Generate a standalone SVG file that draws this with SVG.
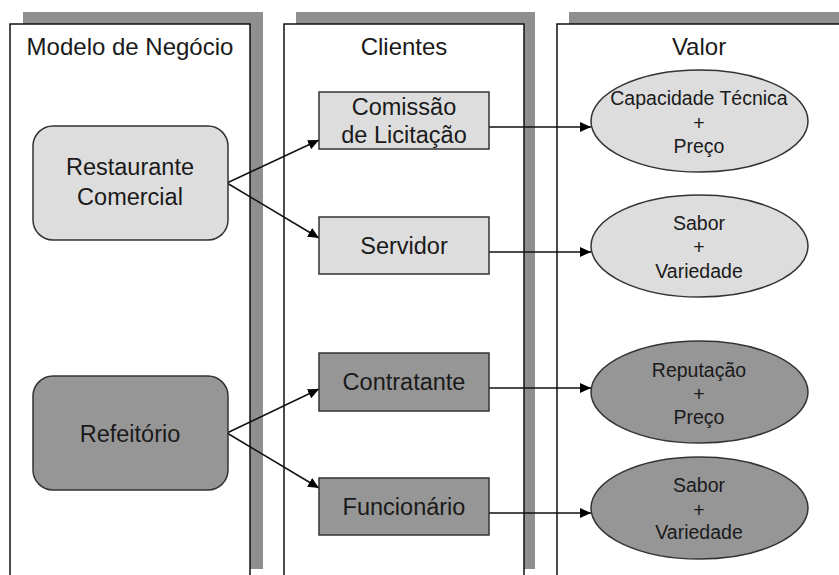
<svg xmlns="http://www.w3.org/2000/svg" width="839" height="575" viewBox="0 0 839 575">
  <style>
    text { font-family: "Liberation Sans", Arial, sans-serif; fill: #1a1a1a; text-anchor: middle; }
    .title { font-size: 24px; }
    .node { font-size: 23.5px; }
    .val { font-size: 19.5px; }
    .shadow { fill: #8f8f8f; stroke: none; }
    .panel { fill: #ffffff; stroke: #111; stroke-width: 1.5; }
    .light { fill: #dddddd; stroke: #333; stroke-width: 1.5; }
    .dark { fill: #969696; stroke: #333; stroke-width: 1.5; }
    .conn { stroke: #111; stroke-width: 1.6; fill: none; marker-end: url(#arrow); }
  </style>
  <defs>
    <marker id="arrow" markerUnits="userSpaceOnUse" markerWidth="12" markerHeight="10" refX="11" refY="5" orient="auto">
      <path d="M0,0 L11,5 L0,10 z" fill="#000"/>
    </marker>
  </defs>
  <rect width="839" height="575" fill="#ffffff"/>

  <g id="panel-modelo">
    <rect class="shadow" x="23" y="12" width="240" height="557"/>
    <rect class="panel" x="10" y="24" width="240" height="570"/>
    <text class="title" x="130" y="55">Modelo de Negócio</text>
  </g>
  <g id="panel-clientes">
    <rect class="shadow" x="296" y="12" width="239" height="557"/>
    <rect class="panel" x="284" y="24" width="240" height="570"/>
    <text class="title" x="404" y="55">Clientes</text>
  </g>
  <g id="panel-valor">
    <rect class="shadow" x="569" y="12" width="290" height="557"/>
    <rect class="panel" x="557" y="24" width="290" height="570"/>
    <text class="title" x="699" y="55">Valor</text>
  </g>

  <g id="connectors">
    <line class="conn" x1="227" y1="183" x2="319" y2="140"/>
    <line class="conn" x1="227" y1="183" x2="319" y2="238"/>
    <line class="conn" x1="227" y1="433" x2="319" y2="389"/>
    <line class="conn" x1="227" y1="433" x2="319" y2="488"/>
    <line class="conn" x1="489" y1="127" x2="591" y2="127"/>
    <line class="conn" x1="489" y1="252" x2="591" y2="252"/>
    <line class="conn" x1="489" y1="388" x2="591" y2="388"/>
    <line class="conn" x1="489" y1="513" x2="591" y2="513"/>
  </g>

  <g id="node-restaurante">
    <rect class="light" x="33" y="126" width="195" height="114" rx="20" ry="20"/>
    <text class="node" x="130" y="175">Restaurante</text>
    <text class="node" x="130" y="205">Comercial</text>
  </g>
  <g id="node-refeitorio">
    <rect class="dark" x="33" y="376" width="195" height="114" rx="20" ry="20"/>
    <text class="node" x="130" y="442">Refeitório</text>
  </g>

  <g id="node-comissao">
    <rect class="light" x="319" y="92" width="170" height="57"/>
    <text class="node" x="404" y="115">Comissão</text>
    <text class="node" x="404" y="143">de Licitação</text>
  </g>
  <g id="node-servidor">
    <rect class="light" x="319" y="217" width="170" height="57"/>
    <text class="node" x="404" y="254">Servidor</text>
  </g>
  <g id="node-contratante">
    <rect class="dark" x="319" y="353" width="170" height="58"/>
    <text class="node" x="404" y="390">Contratante</text>
  </g>
  <g id="node-funcionario">
    <rect class="dark" x="319" y="478" width="170" height="57"/>
    <text class="node" x="404" y="515">Funcionário</text>
  </g>

  <g id="val-capacidade">
    <ellipse class="light" cx="699.5" cy="121" rx="108.5" ry="51"/>
    <text class="val" x="699" y="105">Capacidade Técnica</text>
    <text class="val" x="699" y="130">+</text>
    <text class="val" x="699" y="153">Preço</text>
  </g>
  <g id="val-sabor1">
    <ellipse class="light" cx="699.5" cy="246" rx="108.5" ry="51"/>
    <text class="val" x="699" y="230">Sabor</text>
    <text class="val" x="699" y="254">+</text>
    <text class="val" x="699" y="278">Variedade</text>
  </g>
  <g id="val-reputacao">
    <ellipse class="dark" cx="699.5" cy="392" rx="108.5" ry="51"/>
    <text class="val" x="699" y="377">Reputação</text>
    <text class="val" x="699" y="401">+</text>
    <text class="val" x="699" y="424">Preço</text>
  </g>
  <g id="val-sabor2">
    <ellipse class="dark" cx="699.5" cy="508" rx="108.5" ry="51"/>
    <text class="val" x="699" y="492">Sabor</text>
    <text class="val" x="699" y="517">+</text>
    <text class="val" x="699" y="539">Variedade</text>
  </g>
</svg>
